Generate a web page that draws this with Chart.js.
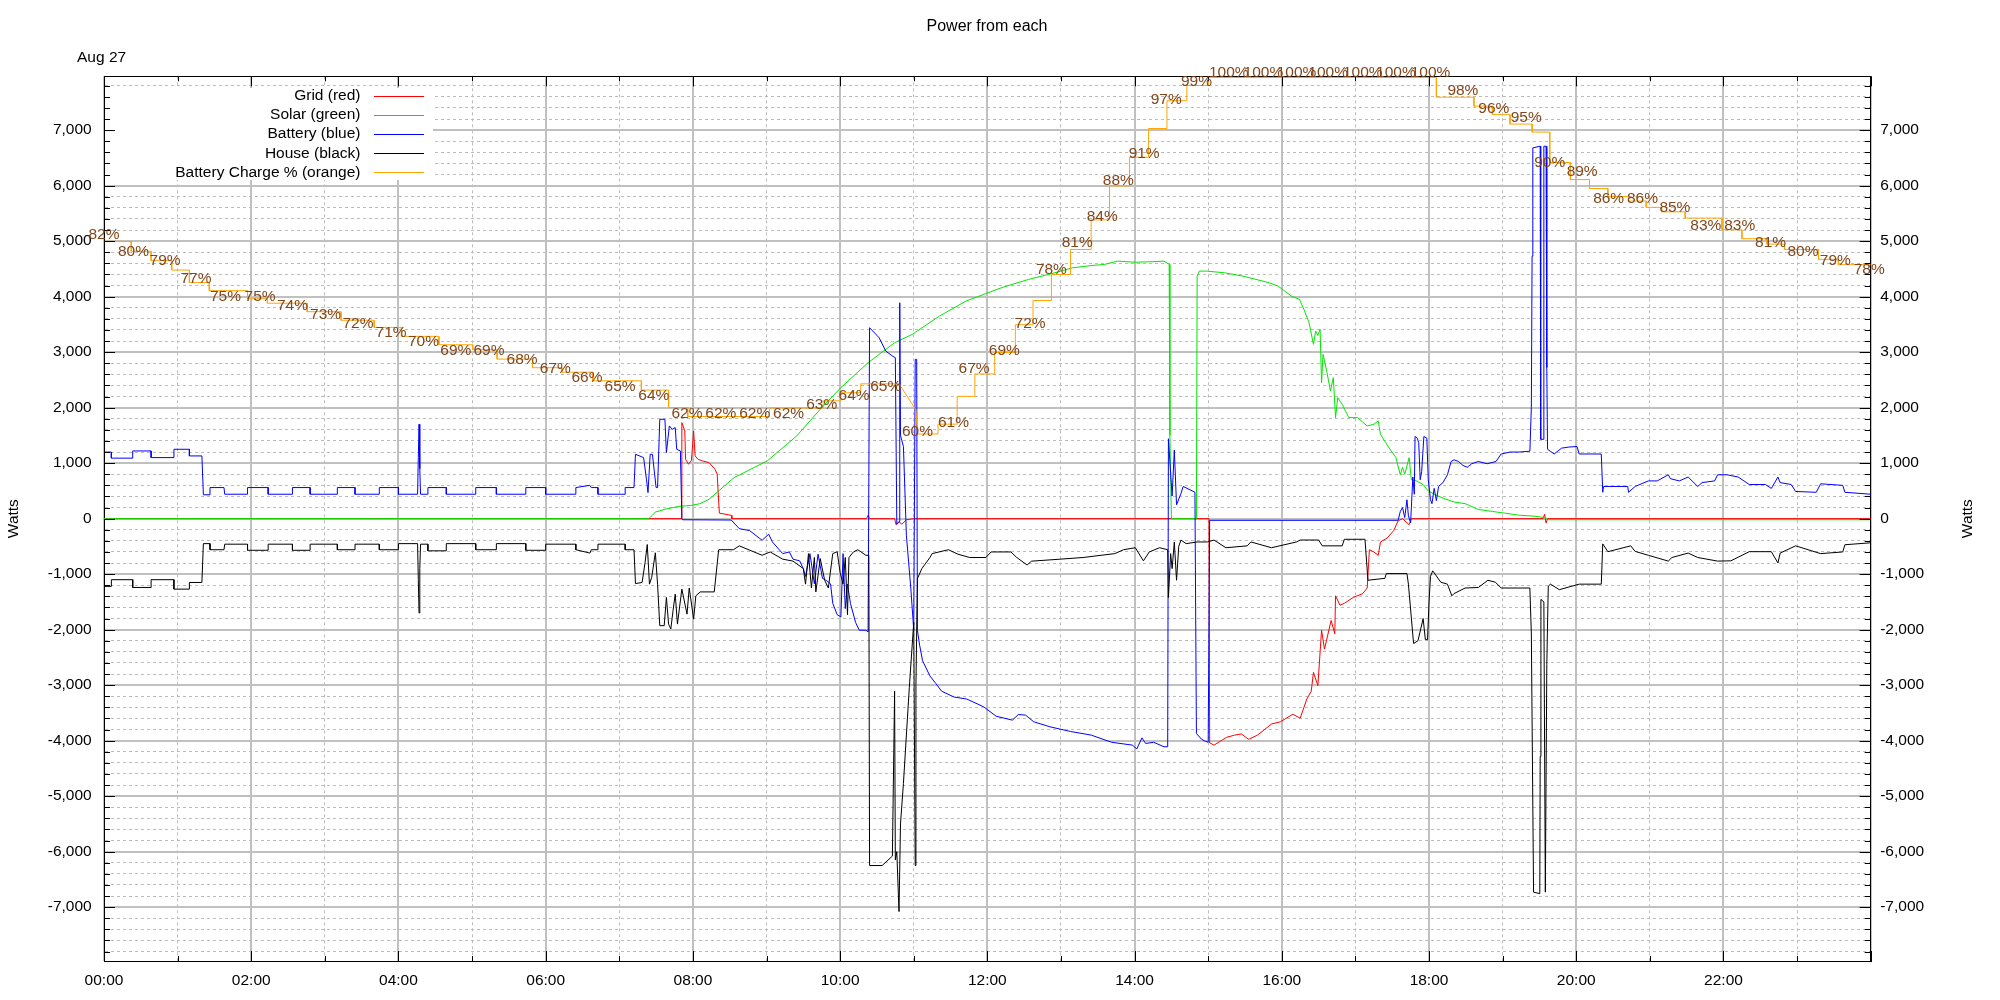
<!DOCTYPE html>
<html>
<head>
<meta charset="utf-8">
<title>Power from each</title>
<script src="https://cdn.jsdelivr.net/npm/chart.js@4.4.1/dist/chart.umd.min.js"></script>
<style>
  html, body { margin: 0; padding: 0; background: #fff; }
  #wrap { width: 2000px; height: 1000px; }
</style>
</head>
<body>
<div id="wrap"><canvas id="powerChart" width="2000" height="1000"></canvas></div>
<script>
// Hours of the day (0-24) and watts for each feed
const gridT = [0, 7.84, 7.85, 7.89, 7.90, 7.94, 7.98, 8.01, 8.03, 8.07, 8.13, 8.22, 8.30, 8.33, 8.35, 8.36, 8.52, 8.53, 10.36, 10.38,
  10.40, 10.74, 10.76, 10.80, 10.84, 10.90, 11.00, 15.01, 15.02, 15.08, 15.25, 15.36, 15.45, 15.55, 15.67, 15.86, 15.98, 16.15, 16.25, 16.34,
  16.40, 16.43, 16.49, 16.54, 16.58, 16.67, 16.72, 16.73, 16.79, 16.85, 16.97, 17.10, 17.16, 17.19, 17.25, 17.31, 17.34, 17.43, 17.52, 17.58,
  17.64, 17.73, 17.76, 19.55, 19.57, 19.59, 19.61, 24];
const gridW = [0, 0, 1730, 1580, 1070, 980, 1050, 1580, 1130, 1070, 1040, 1010, 890, 800, 300, 100, 60, 0, 0, 60,
  0, 0, -110, -60, -100, -20, 0, 0, -4040, -4080, -3940, -3900, -3880, -3975, -3900, -3700, -3660, -3525, -3595, -3250,
  -3110, -2770, -3010, -2010, -2350, -1835, -2075, -1390, -1560, -1525, -1420, -1350, -1250, -560, -600, -660, -420, -350, -215, -40,
  0, -110, 0, 0, 80, -80, 0, 0];

const solarT = [0, 7.40, 7.45, 7.49, 7.55, 7.62, 7.70, 7.80, 7.90, 7.98, 8.10, 8.22, 8.56, 9.01, 9.41, 9.77, 10.01, 10.38, 10.74, 10.98,
  11.35, 11.71, 11.95, 12.19, 12.56, 12.86, 13.16, 13.41, 13.59, 13.77, 14.01, 14.25, 14.40, 14.47, 14.48, 14.50, 14.84, 14.85, 14.88, 14.98,
  15.22, 15.47, 15.65, 15.83, 15.95, 16.04, 16.13, 16.24, 16.31, 16.37, 16.43, 16.46, 16.49, 16.52, 16.54, 16.56, 16.61, 16.66, 16.70, 16.73,
  16.76, 16.82, 16.91, 17.03, 17.16, 17.25, 17.31, 17.34, 17.46, 17.55, 17.61, 17.64, 17.67, 17.73, 17.76, 17.82, 17.92, 17.98, 18.07, 18.19,
  18.34, 18.49, 18.67, 18.86, 19.04, 19.22, 19.40, 19.52, 19.61, 19.62, 24];
const solarW = [0, 0, 60, 120, 140, 170, 190, 220, 230, 240, 270, 350, 740, 1040, 1490, 2030, 2360, 2810, 3170, 3320,
  3650, 3920, 4040, 4160, 4310, 4410, 4520, 4560, 4580, 4640, 4620, 4630, 4640, 4580, 1500, 0, 0, 4370, 4460, 4460,
  4430, 4370, 4310, 4250, 4190, 4100, 4010, 3950, 3740, 3530, 3140, 3380, 3300, 3410, 2450, 2960, 2660, 2300, 2540, 1820,
  2180, 2060, 1820, 1820, 1670, 1700, 1760, 1520, 1270, 1100, 790, 925, 800, 1100, 700, 685, 615, 510, 440, 370,
  300, 270, 165, 130, 97, 62, 48, 30, 0, -20, -20];

const batteryT = [0, 0.10, 0.10, 0.39, 0.39, 0.64, 0.64, 0.95, 0.95, 1.16, 1.16, 1.33, 1.35, 1.44, 1.44, 1.63, 1.64, 1.95, 1.95, 2.23,
  2.23, 2.56, 2.56, 2.80, 2.80, 3.17, 3.17, 3.41, 3.41, 3.74, 3.74, 4.00, 4.00, 4.26, 4.27, 4.28, 4.29, 4.30, 4.40, 4.40,
  4.65, 4.65, 5.05, 5.05, 5.33, 5.33, 5.73, 5.73, 6.00, 6.00, 6.41, 6.41, 6.60, 6.62, 6.71, 6.71, 7.08, 7.08, 7.20, 7.22,
  7.33, 7.37, 7.39, 7.42, 7.45, 7.50, 7.52, 7.55, 7.62, 7.64, 7.68, 7.72, 7.76, 7.78, 7.83, 7.85, 7.86, 8.52, 8.63, 8.77,
  8.94, 9.03, 9.08, 9.22, 9.31, 9.36, 9.45, 9.50, 9.53, 9.59, 9.65, 9.70, 9.76, 9.81, 9.87, 9.90, 9.96, 10.01, 10.04, 10.07,
  10.10, 10.14, 10.21, 10.26, 10.35, 10.38, 10.40, 10.53, 10.62, 10.71, 10.75, 10.77, 10.80, 10.81, 10.82, 10.86, 10.90, 10.96, 11.00, 11.02,
  11.04, 11.05, 11.08, 11.12, 11.22, 11.30, 11.38, 11.55, 11.72, 11.95, 12.12, 12.34, 12.42, 12.52, 12.63, 12.85, 13.13, 13.41, 13.69, 13.97,
  14.03, 14.10, 14.15, 14.26, 14.40, 14.45, 14.46, 14.51, 14.54, 14.57, 14.63, 14.66, 14.82, 14.84, 14.91, 14.96, 15.00, 15.02, 17.58, 17.61,
  17.64, 17.67, 17.70, 17.72, 17.75, 17.78, 17.80, 17.81, 17.84, 17.86, 17.88, 17.90, 17.93, 17.97, 17.99, 18.02, 18.04, 18.07, 18.10, 18.13,
  18.19, 18.25, 18.30, 18.34, 18.40, 18.46, 18.52, 18.58, 18.67, 18.79, 18.91, 18.98, 19.10, 19.22, 19.37, 19.39, 19.40, 19.41, 19.51, 19.515,
  19.52, 19.55, 19.56, 19.59, 19.60, 19.61, 19.70, 19.80, 19.90, 20.01, 20.04, 20.20, 20.34, 20.36, 20.37, 20.70, 20.71, 20.80, 20.98, 21.10,
  21.25, 21.28, 21.40, 21.52, 21.65, 21.71, 21.88, 21.92, 22.05, 22.20, 22.35, 22.57, 22.65, 22.74, 22.77, 22.92, 22.98, 23.26, 23.32, 23.62,
  23.65, 24];
const batteryW = [1200, 1200, 1090, 1090, 1220, 1220, 1100, 1100, 1250, 1250, 1130, 1130, 430, 430, 560, 560, 440, 440, 560, 560,
  440, 440, 560, 560, 440, 440, 560, 560, 440, 440, 560, 560, 440, 440, 1100, 1700, 900, 440, 440, 560,
  560, 440, 440, 560, 560, 440, 440, 560, 560, 440, 440, 560, 600, 560, 560, 440, 440, 560, 560, 1160,
  1100, 700, 470, 1160, 1160, 560, 560, 1790, 1790, 1190, 1670, 1610, 1640, 1250, 1220, 0, -20, -25, -180, -215,
  -390, -280, -420, -630, -600, -730, -760, -900, -1040, -630, -1175, -640, -1075, -1110, -1175, -1525, -1730, -1770, -630, -1620,
  -1180, -1525, -1870, -2010, -2010, -2040, 3440, 3260, 3020, 2930, 2900, -100, -50, 3890, 1500, 1300, -300, -1250, -2010, 2870,
  2870, -2010, -2280, -2560, -2835, -2970, -3110, -3215, -3250, -3390, -3560, -3630, -3530, -3540, -3660, -3750, -3835, -3900, -4030, -4080,
  -4150, -3950, -4050, -4030, -4110, -4110, 1440, 407, 1235, 250, 450, 580, 476, -3870, -3975, -4010, -4030, -30, -30, 130,
  200, 20, 340, 50, -75, 750, 440, 1480, 1450, 1370, 700, 850, 1480, 1450, 700, 340, 270, 545, 325, 580,
  650, 790, 1030, 1060, 1030, 960, 925, 990, 1030, 990, 1030, 1165, 1200, 1200, 1215, 2000, 4730, 6680, 6710, 4280,
  1430, 1430, 6710, 6710, 2720, 1250, 1165, 1270, 1290, 1300, 1165, 1165, 1165, 475, 580, 580, 475, 580, 680, 680,
  790, 720, 680, 750, 580, 650, 680, 790, 790, 750, 615, 615, 545, 750, 650, 615, 490, 475, 628, 600,
  475, 440];

const houseT = [0, 0.10, 0.10, 0.39, 0.39, 0.64, 0.64, 0.95, 0.95, 1.16, 1.16, 1.33, 1.35, 1.44, 1.44, 1.63, 1.64, 1.95, 1.95, 2.23,
  2.23, 2.56, 2.56, 2.80, 2.80, 3.17, 3.17, 3.41, 3.41, 3.74, 3.74, 4.00, 4.00, 4.26, 4.27, 4.28, 4.29, 4.30, 4.40, 4.40,
  4.65, 4.65, 5.05, 5.05, 5.33, 5.33, 5.73, 5.73, 6.00, 6.00, 6.41, 6.41, 6.60, 6.62, 6.71, 6.71, 7.08, 7.08, 7.20, 7.22,
  7.31, 7.35, 7.38, 7.41, 7.44, 7.49, 7.52, 7.55, 7.61, 7.64, 7.67, 7.70, 7.73, 7.76, 7.79, 7.85, 7.92, 7.95, 8.01, 8.04,
  8.10, 8.29, 8.35, 8.55, 8.63, 8.94, 9.05, 9.22, 9.36, 9.50, 9.53, 9.57, 9.61, 9.65, 9.67, 9.73, 9.79, 9.84, 9.90, 9.96,
  10.00, 10.04, 10.07, 10.10, 10.12, 10.18, 10.24, 10.35, 10.39, 10.40, 10.57, 10.71, 10.74, 10.75, 10.77, 10.80, 10.82, 10.86, 10.94, 11.00,
  11.02, 11.03, 11.05, 11.11, 11.22, 11.25, 11.47, 11.60, 11.76, 11.98, 12.05, 12.32, 12.40, 12.54, 12.60, 12.99, 13.30, 13.73, 13.85, 14.01,
  14.12, 14.20, 14.34, 14.45, 14.46, 14.49, 14.51, 14.54, 14.57, 14.60, 14.63, 14.70, 14.85, 14.99, 15.08, 15.24, 15.53, 15.58, 15.86, 16.20,
  16.25, 16.50, 16.55, 16.82, 16.85, 17.13, 17.17, 17.40, 17.42, 17.70, 17.72, 17.79, 17.85, 17.92, 17.95, 17.98, 18.00, 18.02, 18.05, 18.16,
  18.25, 18.31, 18.34, 18.49, 18.67, 18.80, 18.90, 18.98, 19.37, 19.39, 19.42, 19.505, 19.51, 19.52, 19.56, 19.58, 19.60, 19.62, 19.65, 19.77,
  20.04, 20.34, 20.36, 20.43, 20.74, 20.80, 20.98, 21.25, 21.30, 21.52, 21.65, 21.92, 22.10, 22.35, 22.65, 22.74, 22.77, 22.98, 23.32, 23.62,
  23.65, 24];
const houseW = [-1220, -1220, -1100, -1100, -1240, -1240, -1100, -1100, -1270, -1270, -1150, -1150, -450, -450, -560, -560, -460, -460, -570, -570,
  -460, -460, -570, -570, -460, -460, -560, -560, -460, -460, -560, -560, -450, -450, -1100, -1700, -900, -460, -460, -580,
  -580, -450, -450, -560, -560, -450, -450, -570, -570, -460, -460, -560, -620, -560, -560, -460, -460, -560, -560, -1170,
  -1150, -794, -466, -1180, -1060, -615, -1180, -1928, -1928, -1420, -1900, -1988, -1660, -1360, -1900, -1270, -1720, -1250, -1810, -1390,
  -1320, -1320, -560, -560, -490, -660, -600, -730, -765, -900, -1180, -630, -1250, -700, -1320, -720, -1110, -1250, -630, -595,
  -970, -1180, -700, -1730, -700, -600, -560, -660, -660, -6250, -6250, -6080, -3110, -6150, -6000, -7080, -5500, -4770, -3040, -1870,
  -6250, -3000, -1080, -900, -700, -630, -560, -640, -700, -700, -600, -600, -700, -835, -766, -730, -700, -630, -560, -524,
  -760, -600, -524, -560, -1420, -630, -900, -420, -1110, -500, -386, -450, -420, -420, -386, -524, -490, -420, -524, -420,
  -385, -385, -490, -490, -372, -372, -1110, -1075, -990, -990, -1180, -2250, -2200, -1800, -2180, -2180, -1500, -1040, -940, -1145,
  -1180, -1390, -1350, -1250, -1240, -1110, -1145, -1250, -1250, -2080, -6730, -6755, -4285, -1455, -1500, -6730, -2630, -1215, -1180, -1280,
  -1180, -1180, -455, -595, -490, -590, -660, -765, -700, -620, -700, -765, -760, -595, -595, -800, -620, -490, -630, -600,
  -470, -435];

// Battery charge in percent (drawn against its own hidden axis)
const chargeT = [0, 0.37, 0.37, 0.64, 0.64, 0.92, 0.92, 1.16, 1.16, 1.43, 1.43, 1.95, 1.95, 2.22, 2.22, 2.76, 2.76, 3.22, 3.22, 3.67,
  3.67, 4.04, 4.04, 4.55, 4.55, 5.01, 5.01, 5.34, 5.34, 5.82, 5.82, 6.22, 6.22, 6.64, 6.64, 7.30, 7.30, 7.67, 7.67, 7.93,
  7.93, 9.04, 9.04, 9.77, 9.77, 10.01, 10.01, 10.28, 10.28, 10.80, 11.03, 11.05, 11.33, 11.33, 11.59, 11.59, 11.83, 11.83, 12.10, 12.10,
  12.38, 12.38, 12.62, 12.62, 12.87, 12.87, 13.13, 13.13, 13.41, 13.41, 13.66, 13.66, 13.93, 13.93, 14.19, 14.19, 14.44, 14.44, 14.71, 14.71,
  15.00, 15.00, 18.10, 18.10, 18.61, 18.61, 18.86, 18.86, 19.10, 19.10, 19.40, 19.40, 19.64, 19.64, 19.92, 19.92, 20.18, 20.18, 20.43, 20.43,
  20.71, 20.71, 20.95, 20.95, 21.16, 21.16, 21.48, 21.48, 21.98, 21.98, 22.25, 22.25, 22.59, 22.59, 22.83, 22.83, 23.29, 23.29, 23.56, 23.56,
  24];
const chargePct = [81.6, 81.6, 80.5, 80.5, 79.45, 79.45, 78.4, 78.4, 77.0, 77.0, 76.1, 76.1, 75.2, 75.2, 74.7, 74.7, 73.75, 73.75, 72.8, 72.8,
  72.0, 72.0, 71.0, 71.0, 70.06, 70.06, 69.5, 69.5, 68.46, 68.46, 67.5, 67.5, 67.0, 67.0, 66.04, 66.04, 65.0, 65.0, 63.05, 63.05,
  62.05, 62.05, 63.0, 63.0, 63.8, 63.8, 64.7, 64.7, 65.7, 65.7, 62.8, 60.1, 60.1, 61.2, 61.2, 64.3, 64.3, 66.8, 66.8, 69.2,
  69.2, 72.3, 72.3, 75.0, 75.0, 77.9, 77.9, 80.7, 80.7, 84.0, 84.0, 87.8, 87.8, 91.0, 91.0, 94.2, 94.2, 97.3, 97.3, 99.0,
  99.0, 99.9, 99.9, 97.7, 97.7, 96.7, 96.7, 95.75, 95.75, 94.7, 94.7, 93.8, 93.8, 90.4, 90.4, 88.5, 88.5, 87.5, 87.5, 86.6,
  86.6, 86.1, 86.1, 85.4, 85.4, 84.9, 84.9, 84.2, 84.2, 82.9, 82.9, 81.9, 81.9, 81.3, 81.3, 80.7, 80.7, 79.6, 79.6, 79.0,
  79.0];

// Percentage labels written along the charge line
const labelT = [0, 0.40, 0.83, 1.25, 1.65, 2.12, 2.56, 3.01, 3.45, 3.90, 4.34, 4.78, 5.23, 5.68, 6.13, 6.56, 7.01, 7.47, 7.92, 8.38,
  8.84, 9.30, 9.75, 10.19, 10.62, 11.05, 11.54, 11.82, 12.23, 12.58, 12.87, 13.22, 13.56, 13.78, 14.13, 14.43, 14.84, 15.28, 15.75, 16.20,
  16.63, 17.10, 17.55, 18.02, 18.46, 18.88, 19.32, 19.64, 20.08, 20.44, 20.90, 21.34, 21.76, 22.22, 22.64, 23.08, 23.52, 23.98];
const labelPct = [82, 80, 79, 77, 75, 75, 74, 73, 72, 71, 70, 69, 69, 68, 67, 66, 65, 64, 62, 62,
  62, 62, 63, 64, 65, 60, 61, 67, 69, 72, 78, 81, 84, 88, 91, 97, 99, 100, 100, 100,
  100, 100, 100, 100, 98, 96, 95, 90, 89, 86, 86, 85, 83, 83, 81, 80, 79, 78];

const seriesNames = ['Grid (red)', 'Solar (green)', 'Battery (blue)', 'House (black)', 'Battery Charge % (orange)'];
const seriesColors = ['#ff0000', '#00e600', '#0000ff', '#000000', '#ffa500'];

const yMin = -7970, yMax = 7970;
const pctMin = 1.27, pctMax = 100.03;

const FONT = "'Liberation Sans', Arial, sans-serif";
const MAJOR = '#c0c0c0';
const MINOR = '#bcbcbc';
const LABEL_BROWN = '#82461a';

Chart.defaults.font.family = FONT;
Chart.defaults.font.size = 15.5;
Chart.defaults.color = '#000';

const pts = (ts, vs) => ts.map((t, i) => ({ x: t, y: vs[i] }));

function lineSet(i, ts, vs, order, axis) {
	return {
		label: seriesNames[i],
		data: pts(ts, vs),
		borderColor: seriesColors[i],
		backgroundColor: seriesColors[i],
		borderWidth: 1,
		pointRadius: 0,
		tension: 0,
		fill: false,
		borderJoinStyle: 'round',
		order: order,
		yAxisID: axis || 'y',
	};
}

const isMajorW = (c) => c.tick && c.tick.value % 1000 === 0;
const isMinorW = (c) => c.tick && c.tick.value % 1000 !== 0;
const isMajorH = (c) => c.tick && c.tick.value % 2 === 0;
const isMinorH = (c) => c.tick && c.tick.value % 2 !== 0;
const wattLabel = (v) => (v % 1000 === 0 ? v.toLocaleString('en-US') : '');
const hourLabel = (v) => (v % 2 === 0 && v < 24 ? String(v).padStart(2, '0') + ':00' : '');

// white key box with the series names, like the gnuplot key
const keyBox = {
	id: 'keyBox',
	beforeDatasetsDraw(chart) {
		const ctx = chart.ctx;
		ctx.save();
		ctx.fillStyle = '#fff';
		ctx.fillRect(chart.chartArea.left + 1, 88, 433 - chart.chartArea.left - 1, 92);
		ctx.restore();
	},
	afterDatasetsDraw(chart) {
		const ctx = chart.ctx;
		ctx.save();
		ctx.font = '15.5px ' + FONT;
		ctx.textAlign = 'right';
		ctx.textBaseline = 'middle';
		chart.data.datasets.forEach((ds, i) => {
			const y = 96 + i * 19.1;
			ctx.fillStyle = '#000';
			ctx.fillText(ds.label, 360.5, y);
			ctx.strokeStyle = ds.borderColor;
			ctx.lineWidth = 1;
			ctx.beginPath();
			ctx.moveTo(374, Math.round(y) + 0.5);
			ctx.lineTo(424, Math.round(y) + 0.5);
			ctx.stroke();
		});
		ctx.restore();
	},
};

// tick marks pointing into the plot on all four sides
const innerTicks = {
	id: 'innerTicks',
	afterDatasetsDraw(chart) {
		const { ctx, chartArea: a, scales } = chart;
		ctx.save();
		ctx.strokeStyle = '#000';
		ctx.lineWidth = 1;
		ctx.beginPath();
		scales.y.ticks.forEach((t) => {
			const y = Math.round(scales.y.getPixelForValue(t.value)) + 0.5;
			const len = t.value % 1000 === 0 ? 11 : 6;
			ctx.moveTo(a.left, y);
			ctx.lineTo(a.left + len, y);
			ctx.moveTo(a.right, y);
			ctx.lineTo(a.right - len, y);
		});
		scales.x.ticks.forEach((t) => {
			const x = Math.round(scales.x.getPixelForValue(t.value)) + 0.5;
			const len = t.value % 2 === 0 ? 10 : 5;
			ctx.moveTo(x, a.bottom);
			ctx.lineTo(x, a.bottom - len);
			ctx.moveTo(x, a.top);
			ctx.lineTo(x, a.top + len);
		});
		ctx.stroke();
		ctx.restore();
	},
};

// percent labels on the charge line, plus the loose texts
const chargeLabels = {
	id: 'chargeLabels',
	afterDatasetsDraw(chart) {
		const { ctx, scales } = chart;
		ctx.save();
		ctx.font = '15.5px ' + FONT;
		ctx.fillStyle = LABEL_BROWN;
		ctx.textAlign = 'center';
		ctx.textBaseline = 'middle';
		labelT.forEach((t, i) => {
			ctx.fillText(labelPct[i] + '%', scales.x.getPixelForValue(t), scales.yPct.getPixelForValue(labelPct[i] + 0.4));
		});
		ctx.restore();
	},
	afterDraw(chart) {
		const ctx = chart.ctx;
		ctx.save();
		ctx.fillStyle = '#000';
		ctx.font = '15.5px ' + FONT;
		ctx.textAlign = 'left';
		ctx.textBaseline = 'alphabetic';
		ctx.fillText('Aug 27', 77, 61.5);
		const yr = chart.scales.yr;
		ctx.translate(1968, (yr.top + yr.bottom) / 2);
		ctx.rotate(-Math.PI / 2);
		ctx.textAlign = 'center';
		ctx.textBaseline = 'middle';
		ctx.fillText('Watts', 0, 0);
		ctx.restore();
	},
};

const ctx = document.getElementById('powerChart').getContext('2d');
new Chart(ctx, {
	type: 'line',
	data: {
		datasets: [
			lineSet(0, gridT, gridW, 5),
			lineSet(1, solarT, solarW, 4),
			lineSet(2, batteryT, batteryW, 3),
			lineSet(3, houseT, houseW, 2),
			lineSet(4, chargeT, chargePct, 1, 'yPct'),
		],
	},
	options: {
		responsive: false,
		maintainAspectRatio: false,
		devicePixelRatio: 1,
		animation: false,
		layout: { padding: { left: 0, right: 26, top: 0, bottom: 0 } },
		plugins: {
			legend: { display: false },
			tooltip: { enabled: false },
			title: {
				display: true,
				text: 'Power from each',
				color: '#000',
				font: { size: 16, weight: 'normal' },
				padding: { top: 17.4, bottom: 0 },
			},
		},
		scales: {
			x: {
				type: 'linear',
				position: 'bottom',
				min: 0,
				max: 24,
				ticks: { stepSize: 1, autoSkip: false, maxRotation: 0, includeBounds: false, padding: 10.2, callback: hourLabel },
				grid: {
					color: (c) => (isMajorH(c) ? MAJOR : MINOR),
					lineWidth: (c) => (isMajorH(c) ? 2 : 1),
					drawTicks: false,
				},
				border: { color: '#000', width: 1, dash: (c) => (isMinorH(c) ? [3, 3] : []) },
				afterFit: (s) => { s.height = 39; },
			},
			xTop: {
				type: 'linear',
				position: 'top',
				min: 0,
				max: 24,
				ticks: { display: false },
				grid: { drawOnChartArea: false, drawTicks: false },
				border: { color: '#000', width: 1 },
				afterFit: (s) => { s.height = 39.7; },
			},
			y: {
				type: 'linear',
				position: 'left',
				min: yMin,
				max: yMax,
				ticks: { stepSize: 200, maxTicksLimit: 200, autoSkip: false, includeBounds: false, padding: 12.3, callback: wattLabel },
				grid: {
					color: (c) => (isMajorW(c) ? MAJOR : MINOR),
					lineWidth: (c) => (isMajorW(c) ? 2 : 1),
					drawTicks: false,
				},
				border: { color: '#000', width: 1, dash: (c) => (isMinorW(c) ? [3, 3] : []) },
				title: { display: true, text: 'Watts', font: { size: 15.5 }, padding: { top: 4.1, bottom: 0 } },
				afterFit: (s) => { s.width = 104; },
			},
			yr: {
				type: 'linear',
				position: 'right',
				min: yMin,
				max: yMax,
				ticks: { stepSize: 200, maxTicksLimit: 200, autoSkip: false, includeBounds: false, padding: 9.5, callback: wattLabel },
				grid: { drawOnChartArea: false, drawTicks: false },
				border: { color: '#000', width: 1 },
				afterFit: (s) => { s.width = 103.3; },
			},
			yPct: {
				type: 'linear',
				display: false,
				min: pctMin,
				max: pctMax,
			},
		},
	},
	plugins: [keyBox, innerTicks, chargeLabels],
});
</script>
</body>
</html>
